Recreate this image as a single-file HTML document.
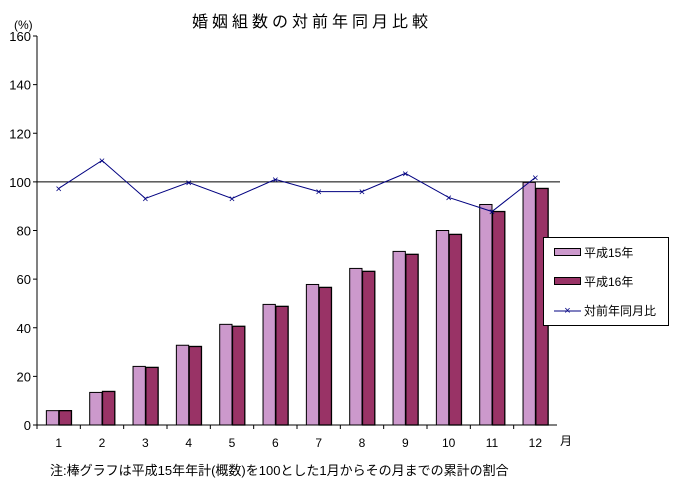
<!DOCTYPE html>
<html><head><meta charset="utf-8"><style>
body{margin:0;background:#fff;}
svg text{font-family:"Liberation Sans","Noto Sans CJK JP",sans-serif;}
</style></head><body>
<svg width="675" height="490" viewBox="0 0 675 490" xmlns="http://www.w3.org/2000/svg">
<text x="312" y="27" font-size="16" text-anchor="middle" letter-spacing="4">婚姻組数の対前年同月比較</text>
<text x="14" y="29" font-size="12">(%)</text>
<g id="axes"></g>
<g id="bars"></g>
<g id="line"></g>
<text x="560" y="445" font-size="12">月</text>
<text x="50" y="475" font-size="13">注:棒グラフは平成15年年計(概数)を100とした1月からその月までの累計の割合</text>
<g>
<rect x="543.5" y="237.5" width="125" height="88" fill="#fff" stroke="#000"/>
<rect x="554.5" y="248.5" width="26" height="7" fill="#cc99cc" stroke="#000"/>
<text x="584" y="257" font-size="12">平成15年</text>
<rect x="554.5" y="277.5" width="26" height="7" fill="#993366" stroke="#000"/>
<text x="584" y="286" font-size="12">平成16年</text>
<line x1="554" y1="311" x2="581" y2="311" stroke="#000080"/>
<text x="567.5" y="314" font-size="11" fill="#000080" text-anchor="middle">×</text>
<text x="584" y="315" font-size="12">対前年同月比</text>
</g>
</svg>
<script>
const categories=["1","2","3","4","5","6","7","8","9","10","11","12"];
const h15=[5.9,13.4,24.1,32.8,41.4,49.6,57.8,64.4,71.4,80.0,90.7,99.8];
const h16=[5.9,13.8,23.7,32.3,40.6,48.8,56.6,63.2,70.2,78.4,87.8,97.3];
const ratio=[97.3,108.8,93.2,99.8,93.2,101,96,96,103.5,93.6,87.8,101.8];
const yTicks=[0,20,40,60,80,100,120,140,160];
const NS="http://www.w3.org/2000/svg";
const x0=37,pw=520,y0=425,ph=389,ymax=160;
const cw=pw/categories.length;
const ys=v=>y0-v/ymax*ph;
const xc=i=>x0+cw*i+cw/2;
function mk(t,a,p){const e=document.createElementNS(NS,t);for(const k in a)e.setAttribute(k,a[k]);p.appendChild(e);return e;}
const ax=document.getElementById('axes');
let e=mk('line',{x1:x0,y1:ys(ymax),x2:x0,y2:y0,stroke:'#000'},ax);


e=mk('line',{x1:x0,y1:y0,x2:x0+pw,y2:y0,stroke:'#000'},ax);


e=mk('line',{x1:x0,y1:ys(100),x2:x0+pw+3,y2:ys(100),stroke:'#000'},ax);


yTicks.forEach(v=>{
 mk('line',{x1:x0-4,y1:ys(v),x2:x0,y2:ys(v),stroke:'#000'},ax);
 const t=mk('text',{x:x0-6,y:ys(v)+5,'font-size':13,'text-anchor':'end'},ax);t.textContent=v;
 
 
});
categories.forEach((c,i)=>{
 mk('line',{x1:x0+cw*i,y1:y0,x2:x0+cw*i,y2:y0+4,stroke:'#000'},ax);
 const t=mk('text',{x:xc(i),y:y0+22,'font-size':12,'text-anchor':'middle'},ax);t.textContent=c;
 
 
});
const bg=document.getElementById('bars');const bw=12.3;
categories.forEach((c,i)=>{
 let r=mk('rect',{x:xc(i)-bw,y:ys(h15[i]),width:bw,height:y0-ys(h15[i]),fill:'#cc99cc',stroke:'#000'},bg);
 
 
 r=mk('rect',{x:xc(i)+0.5,y:ys(h16[i]),width:bw,height:y0-ys(h16[i]),fill:'#993366',stroke:'#000','stroke-width':1.3},bg);
 
 
});
const lg=document.getElementById('line');
const pl=mk('polyline',{points:ratio.map((v,i)=>xc(i)+','+ys(v)).join(' '),fill:'none',stroke:'#000080'},lg);


ratio.forEach((v,i)=>{
 const t=mk('text',{x:xc(i),y:ys(v)+4,'font-size':11,fill:'#000080','text-anchor':'middle'},lg);t.textContent='×';
 
 
});
</script>
</body></html>
